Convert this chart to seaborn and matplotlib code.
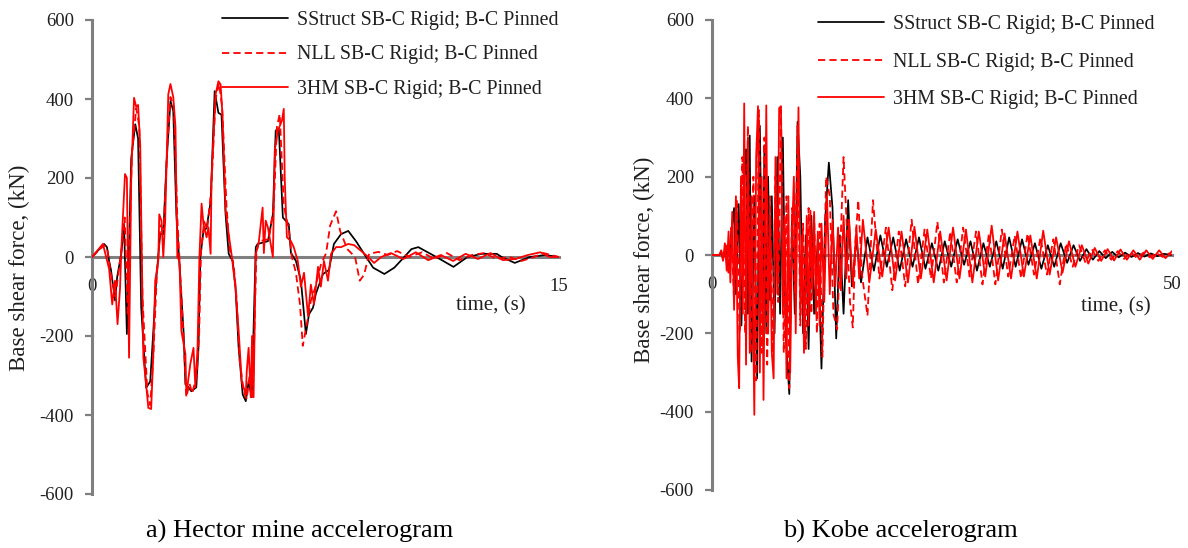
import matplotlib
matplotlib.use("Agg")
import matplotlib.pyplot as plt
import seaborn as sns

# ---------------- Hector mine record (time in s, base shear in kN) ----------------
hector_sstruct_t = [0, 0.39, 0.48, 0.55, 0.61, 0.74, 0.81, 0.94, 1.03, 1.12,
                    1.26, 1.39, 1.48, 1.58, 1.74, 1.87, 1.97, 2.06, 2.19, 2.29,
                    2.39, 2.52, 2.61, 2.71, 2.84, 2.94, 3.00, 3.10, 3.19, 3.35,
                    3.42, 3.48, 3.58, 3.68, 3.81, 3.94, 4.06, 4.16, 4.29, 4.39,
                    4.52, 4.61, 4.71, 4.84, 4.94, 5.03, 5.13, 5.26, 5.32, 5.65,
                    5.81, 5.90, 6.00, 6.13, 6.32, 6.39, 6.55, 6.71, 6.87, 6.97,
                    7.10, 7.19, 7.42, 7.61, 7.77, 8.00, 8.23, 8.48, 8.74, 9.03,
                    9.39, 9.71, 10.03, 10.26, 10.48, 11.06, 11.61, 12.06, 12.52, 13.00,
                    13.16, 13.58, 14.06, 14.55, 15.0]
hector_sstruct_v = [0, 33, 25, -10, -33, -110, -50, 8, 83, -195,
                    250, 336, 300, -128, -331, -315, -187, -60, 58, 58,
                    235, 395, 370, 108, -60, -187, -322, -330, -340, -330,
                    -230, 0, 66, 73, 140, 420, 365, 360, 108, 8,
                    -10, -78, -230, -348, -365, -315, -355, 25, 33, 40,
                    108, 320, 325, 100, 83, 10, -10, -60, -195, -145,
                    -128, -93, -43, -33, 33, 58, 66, 40, 8, -27,
                    -43, -27, 0, 20, 25, 0, -25, 0, 8, 8,
                    0, -15, 0, 5, 0]

hector_nll_t = [0, 0.39, 0.50, 0.60, 0.75, 0.85, 0.95, 1.05, 1.15, 1.28,
                1.42, 1.52, 1.62, 1.78, 1.87, 1.97, 2.08, 2.20, 2.30, 2.42,
                2.52, 2.63, 2.74, 2.86, 2.97, 3.03, 3.13, 3.22, 3.36, 3.44,
                3.50, 3.60, 3.70, 3.83, 3.97, 4.08, 4.18, 4.32, 4.42, 4.55,
                4.64, 4.74, 4.87, 4.97, 5.06, 5.16, 5.28, 5.36, 5.68, 5.84,
                5.94, 6.03, 6.16, 6.32, 6.42, 6.55, 6.68, 6.77, 6.90, 7.03,
                7.16, 7.35, 7.52, 7.65, 7.84, 7.97, 8.20, 8.45, 8.60, 8.74,
                8.90, 9.20, 9.50, 9.80, 10.20, 10.60, 11.00, 11.40, 11.80, 12.20,
                12.60, 13.00, 13.40, 13.80, 14.20, 14.50, 15.0]
hector_nll_v = [0, 30, 15, -40, -100, -40, 20, 100, -150, 260,
                377, 330, -100, -345, -375, -250, -50, 80, 70, 280,
                405, 380, 100, -80, -250, -355, -320, -345, -300, -200,
                10, 90, 70, 170, 400, 440, 380, 130, 20, -20,
                -100, -260, -340, -360, -300, -360, 10, 40, 45, 130,
                330, 362, 130, 70, 0, -40, -120, -225, -170, -110,
                -80, -20, 10, 80, 116, 66, 20, 0, -60, -45,
                8, 13, 5, 15, 0, 12, -5, 10, -8, 5,
                10, -5, 0, -10, 0, 10, 0]

hector_3hm_t = [0, 0.35, 0.55, 0.65, 0.74, 0.82, 0.90, 0.94, 1.06, 1.12,
                1.19, 1.26, 1.35, 1.42, 1.48, 1.55, 1.58, 1.65, 1.71, 1.81,
                1.90, 1.97, 2.03, 2.13, 2.16, 2.23, 2.29, 2.35, 2.45, 2.52,
                2.61, 2.68, 2.74, 2.81, 2.87, 3.00, 3.03, 3.16, 3.26, 3.32,
                3.39, 3.45, 3.52, 3.58, 3.68, 3.74, 3.81, 3.84, 3.97, 4.06,
                4.13, 4.19, 4.23, 4.29, 4.39, 4.48, 4.61, 4.71, 4.81, 4.94,
                4.97, 5.03, 5.10, 5.14, 5.19, 5.26, 5.35, 5.48, 5.52, 5.58,
                5.65, 5.81, 5.84, 5.87, 5.97, 6.10, 6.16, 6.19, 6.26, 6.39,
                6.48, 6.61, 6.71, 6.81, 6.94, 7.03, 7.13, 7.26, 7.35, 7.45,
                7.58, 7.68, 7.84, 8.00, 8.23, 8.42, 8.65, 8.87, 9.06, 9.29,
                9.60, 10.00, 10.40, 10.80, 11.20, 11.60, 12.00, 12.40, 12.80, 13.20,
                13.60, 14.00, 14.40, 14.70, 15.0]
hector_3hm_v = [0, 33, -30, -120, -60, -170, -80, 15, 210, 200,
                -255, 200, 403, 380, 385, 280, 108, -255, -300, -382,
                -385, -245, -60, -10, 108, 92, 0, 92, 412, 438,
                405, 330, 0, -10, -187, -245, -348, -270, -230, -330,
                -230, 0, 135, 83, 50, 75, 8, 200, 412, 445,
                437, 360, 270, 120, 58, 8, -78, -187, -315, -348,
                -290, -230, -355, -200, -355, 8, 33, 125, 10, 92,
                75, 0, 125, 270, 320, 345, 375, 200, 50, 40,
                25, -10, -75, -40, -150, -70, -120, -25, -75, -10,
                -60, 8, 25, 25, 33, 30, 15, 0, -15, 0,
                10, -5, 12, -8, 5, -10, 8, -5, 10, -8,
                -5, 5, 12, 0, 0]

# ---------------- Kobe record (time in s, base shear in kN) ----------------
kobe_sstruct_t = [0, 0.8, 1.0, 1.2, 1.5, 1.8, 2.1, 2.4, 2.6, 2.9,
                  3.2, 3.5, 3.7, 3.9, 4.1, 4.3, 4.6, 4.9, 5.2, 5.5,
                  5.7, 5.9, 6.1, 6.3, 6.5, 6.8, 7.1, 7.4, 7.7, 8.0,
                  8.4, 8.7, 9.0, 9.3, 9.6, 9.9, 10.2, 10.5, 10.8, 11.1,
                  11.5, 11.9, 12.3, 12.7, 13.1, 13.5, 13.9, 14.3, 14.8, 15.2,
                  15.7, 16.2,
                  16.9, 17.6, 18.3, 19.0, 19.7, 20.4, 21.1, 21.8, 22.5, 23.2,
                  23.9, 24.6, 25.3, 26.0, 26.7, 27.4, 28.1, 28.8, 29.5, 30.2,
                  30.9, 31.6, 32.3, 33.0, 33.7, 34.4, 35.1, 35.8, 36.5, 37.2,
                  37.9, 38.6, 39.3, 40.0, 40.7, 41.4, 42.1, 42.8, 43.5, 44.2,
                  44.9, 45.6, 46.3, 47.0, 47.7, 48.4, 49.1, 50.0]
kobe_sstruct_v = [0, 0, 8, -10, 20, -40, 60, 120, -100, 130,
                  -180, 200, 270, -150, 305, -272, 150, -315, 330, -150,
                  280, -200, 200, -115, 150, -200, 250, -150, 300, -200,
                  -355, 100, -150, 340, 200, -200, 50, -240, 100, -150,
                  40, -290, 90, 236, 120, -213, 50, -150, 140, -80,
                  40, -70,
                  45, -40, 50, -30, 45, -40, 40, -30, 45, -35,
                  30, -40, 35, -30, 40, -25, 35, -40, 30, -30,
                  35, -35, 45, -30, 40, -25, 30, -35, 25, -30,
                  30, -20, 25, -15, 15, -12, 10, -8, 8, -6,
                  6, -5, 5, -4, 4, -3, 3, 0]

kobe_nll_t = [0, 0.8, 1.0, 1.2, 1.5, 1.8, 2.1, 2.4, 2.7, 3.0,
              3.3, 3.6, 3.9, 4.2, 4.5, 4.8, 5.1, 5.4, 5.7, 6.0,
              6.3, 6.6, 6.9, 7.2, 7.5, 7.8, 8.1, 8.4, 8.7, 9.0,
              9.3, 9.6, 9.9, 10.2, 10.5, 10.8, 11.1, 11.4, 11.7, 12.0,
              12.4, 12.8, 13.2, 13.6, 14.0, 14.3, 14.6, 15.0, 15.3, 15.6,
              15.9, 16.3, 16.9, 17.5,
              18.2, 18.9, 19.6, 20.3, 21.0, 21.7, 22.4, 23.1, 23.8, 24.5,
              25.2, 25.9, 26.6, 27.3, 28.0, 28.7, 29.4, 30.1, 30.8, 31.5,
              32.2, 32.9, 33.6, 34.3, 35.0, 35.7, 36.4, 37.1, 37.8, 38.5,
              39.2, 39.9, 40.6, 41.3, 42.0, 42.7, 43.4, 44.1, 44.8, 45.5,
              46.2, 46.9, 47.6, 48.3, 49.0, 49.7, 50.0]
kobe_nll_v = [0, 0, 10, -12, 25, -45, 70, -120, 140, -200,
              250, -200, 330, -250, 200, -320, 370, -250, 300, -280,
              150, -250, 200, -120, 370, -250, 150, -340, 120, -100,
              330, -180, 80, -240, 120, -150, 100, -200, 80, -260,
              200, 150, -150, -190, 50, 250, 100, -120, -185, 40,
              140, -50, -155, 140,
              -60, 70, -90, 60, -80, 90, -75, 65, -60, 85,
              -70, 60, -70, 70, -55, 60, -75, 55, -75, 65,
              -55, 50, -60, 55, -50, 45, -50, 40, -75, 30,
              -30, 25, -20, 15, -15, 12, -12, 10, -10, 8,
              -8, 6, -6, 5, -5, 4, 0]

kobe_3hm_t = [0, 0.8, 1.0, 1.2, 1.4, 1.6, 1.8, 2.0, 2.2, 2.4,
              2.6, 2.8, 2.95, 3.15, 3.35, 3.5, 3.7, 3.9, 4.1, 4.3,
              4.6, 4.8, 5.0, 5.2, 5.4, 5.6, 5.9, 6.1, 6.3, 6.5,
              6.7, 6.9, 7.1, 7.3, 7.5, 7.7, 7.9, 8.1, 8.3, 8.5,
              8.7, 8.9, 9.1, 9.4, 9.6, 9.8, 10.0, 10.3, 10.5, 10.7,
              10.9, 11.1, 11.3, 11.5, 11.7, 11.9, 12.2, 12.5, 12.8, 13.1,
              13.4, 13.7, 14.0, 14.3, 14.6, 14.9, 15.3, 15.7, 16.0,
              16.4, 17.1, 17.8, 18.5, 19.2, 19.9, 20.6, 21.3, 22.0, 22.7,
              23.4, 24.1, 24.8, 25.5, 26.2, 26.9, 27.6, 28.3, 29.0, 29.7,
              30.4, 31.1, 31.8, 32.5, 33.2, 33.9, 34.6, 35.3, 36.0, 36.7,
              37.4, 38.1, 38.8, 39.5, 40.2, 40.9, 41.6, 42.3, 43.0, 43.7,
              44.4, 45.1, 45.8, 46.5, 47.2, 47.9, 48.6, 49.3, 50.0]
kobe_3hm_v = [0, 0, 12, -15, 30, -40, 60, -70, 110, -140,
              150, -260, -340, 200, -150, 387, -280, 300, -250, 150,
              -408, 250, 380, -300, 200, -370, 382, -200, 100, -250,
              -315, 250, -100, 375, 380, -150, 100, -315, 150, -300,
              50, 200, -200, 377, -150, 50, -250, 100, -180, 113,
              -100, 110, -150, 60, -180, 80, -120, 150, -100, 90,
              -80, 70, -90, 100, -60, 90, -80, 70, -60,
              90, -70, 65, -55, 70, -65, 60, -70, 72, -60,
              65, -70, 60, -65, 70, -60, 65, -70, 60, -55,
              75, -65, 55, -60, 60, -55, 50, -60, 62, -50,
              45, -45, 35, -30, 25, -22, 18, -15, 15, -14,
              14, -12, 12, -12, 12, -10, 12, -8, 10]

series_labels = ["SStruct SB-C Rigid; B-C Pinned",
                 "NLL SB-C Rigid; B-C Pinned",
                 "3HM SB-C Rigid; B-C Pinned"]
y_ticks = [-600, -400, -200, 0, 200, 400, 600]

# ---------------- styling ----------------
sns.set_style("white")
plt.rcParams["font.family"] = ["Liberation Serif", "DejaVu Serif"]
plt.rcParams["axes.unicode_minus"] = False

W, H = 1188, 548
fig = plt.figure(figsize=(W / 100, H / 100), dpi=100)
AXIS_GREY = "#7f7f7f"
TEXT = "#1f1f1f"


def axes_px(left, top, right, bottom):
    return fig.add_axes([left / W, 1 - bottom / H, (right - left) / W, (bottom - top) / H])


line_styles = [
    dict(color="black", lw=1.25, linestyle="-"),
    dict(color="#ff0000", lw=1.3, linestyle=(0, (4.0, 2.3))),
    dict(color="#ff0000", lw=1.3, linestyle="-"),
]


def draw_panel(ax, series, xmax, legend_anchor, label_spacing, time_pos):
    for (t, v), style, lab in zip(series, line_styles, series_labels):
        sns.lineplot(x=t, y=v, ax=ax, estimator=None, sort=False,
                     label=lab, zorder=3, **style)
    ax.set_xlim(0, xmax)
    ax.set_ylim(-600, 600)
    ax.set_yticks(y_ticks)
    ax.set_yticklabels([str(y) for y in y_ticks])
    ax.set_xticks([0, xmax])
    ax.set_xticklabels(["0", str(xmax)])
    ax.set_xlabel("")
    ax.set_ylabel("")
    for side in ("top", "right"):
        ax.spines[side].set_visible(False)
    ax.spines["left"].set_color(AXIS_GREY)
    ax.spines["left"].set_linewidth(2.2)
    ax.spines["bottom"].set_position(("data", 0))
    ax.spines["bottom"].set_color(AXIS_GREY)
    ax.spines["bottom"].set_linewidth(2.2)
    ax.spines["bottom"].set_zorder(2)
    ax.tick_params(axis="y", direction="out", length=5, width=1.6, color=AXIS_GREY,
                   labelsize=13.5, labelcolor=TEXT, pad=8, left=True)
    ax.tick_params(axis="x", length=0, labelsize=13.5, labelcolor=TEXT, pad=15, bottom=True)
    ax.text(time_pos[0], time_pos[1], "time, (s)", transform=ax.transAxes,
            ha="center", va="center", fontsize=15, color=TEXT)
    fs = 14.3
    fs_px = fs * 100 / 72
    ax.legend(loc="upper left", bbox_to_anchor=(legend_anchor[0] / W, 1 - legend_anchor[1] / H),
              bbox_transform=fig.transFigure, frameon=False, fontsize=fs,
              borderpad=0, borderaxespad=0, handlelength=66 / fs_px,
              handletextpad=9 / fs_px, labelspacing=label_spacing, labelcolor=TEXT)


ax1 = axes_px(92, 20, 559, 494)
draw_panel(ax1,
           [(hector_sstruct_t, hector_sstruct_v), (hector_nll_t, hector_nll_v),
            (hector_3hm_t, hector_3hm_v)],
           15, (222, 11), 0.78, (0.854, 0.397))

ax2 = axes_px(712, 20, 1172, 490)
draw_panel(ax2,
           [(kobe_sstruct_t, kobe_sstruct_v), (kobe_nll_t, kobe_nll_v),
            (kobe_3hm_t, kobe_3hm_v)],
           50, (818, 15), 0.94, (0.878, 0.39))

fig.text(19 / W, 1 - 268 / H, "Base shear force, (kN)", rotation=90,
         ha="center", va="center", fontsize=16.5, color=TEXT)
fig.text(644 / W, 1 - 260 / H, "Base shear force, (kN)", rotation=90,
         ha="center", va="center", fontsize=16.5, color=TEXT)
fig.text(300 / W, 1 - 531 / H, "a) Hector mine accelerogram",
         ha="center", va="center", fontsize=19, color="black")
fig.text(900 / W, 1 - 531 / H, "b) Kobe accelerogram",
         ha="center", va="center", fontsize=19, color="black")

fig.savefig("out.png", dpi=100, facecolor="white")
